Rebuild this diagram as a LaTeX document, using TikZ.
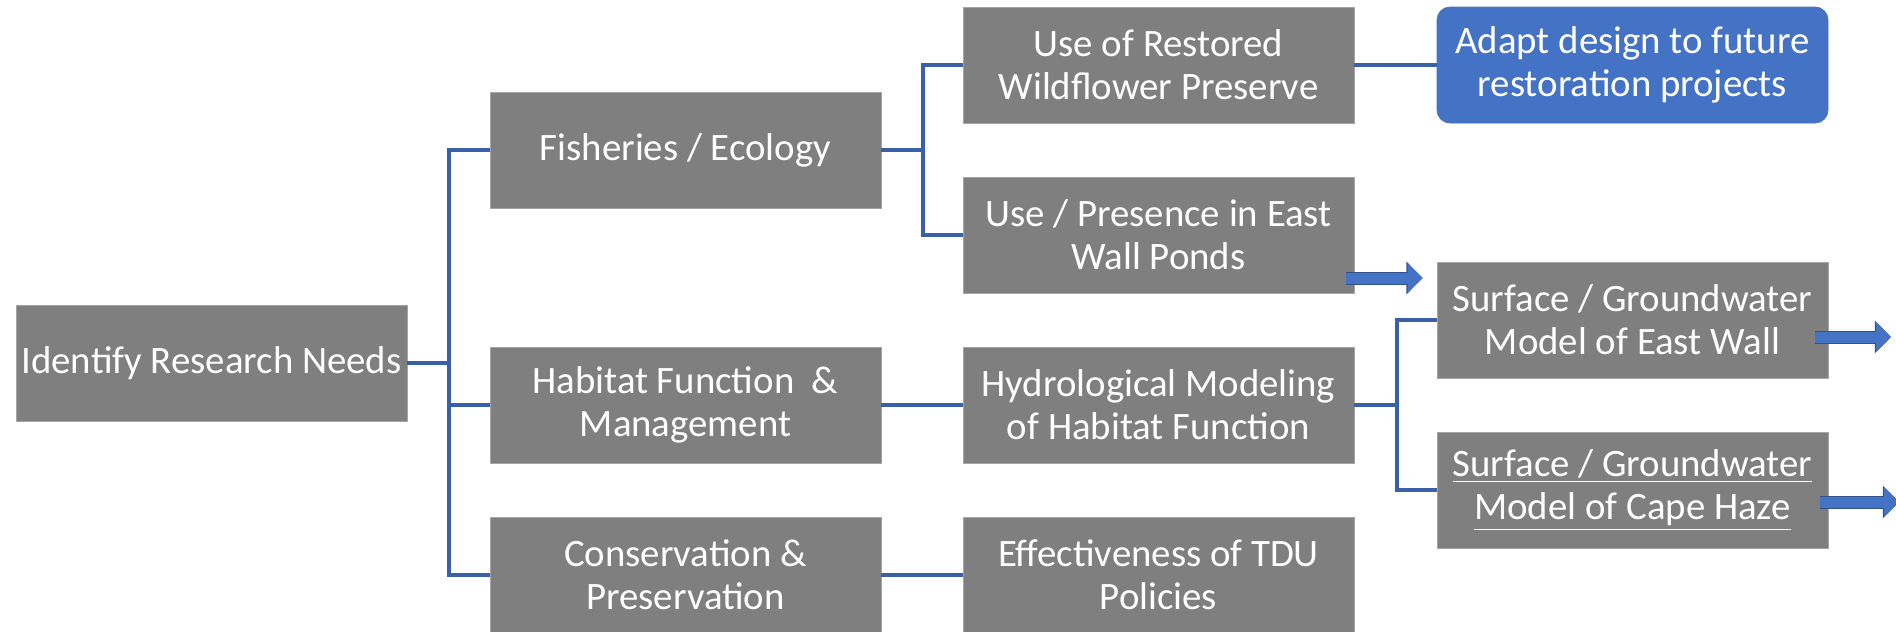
\documentclass[tikz,border=0pt]{standalone}
\usepackage{fontspec}
\setmainfont{Carlito}
\usepackage{tikz}
\usetikzlibrary{arrows.meta}
\usetikzlibrary{calc}

\definecolor{cajagris}{HTML}{7F7F7F}
\definecolor{bordegris}{HTML}{A5A5A5}
\definecolor{azulclaro}{HTML}{4472C4}
\definecolor{azuloscuro}{HTML}{2F528F}

\begin{document}
\begin{tikzpicture}[
        x=0.5pt, y=-0.5pt, % one unit = one pixel of the reference
        font=\fontsize{19.4}{21.5}\selectfont,
        % --- styles ---
        box/.style={fill=cajagris, draw=bordegris, line width=0.4pt, text=white,
            minimum width=195.5pt, minimum height=58pt, inner sep=0pt, align=center},
        goal/.style={box, fill=azulclaro, draw=azulclaro, rounded corners=6.5pt},
        link/.style={azulclaro!85!black, line width=1.7pt},
        blockarrow/.style={-{Triangle[length=7.5pt, width=14.5pt]}, line width=5.5pt, azulclaro,
            preaction={draw=azuloscuro, line width=6.5pt, -{Triangle[length=8.1pt, width=15.9pt]}}},
    ]
        \useasboundingbox (0,0) rectangle (1896,632);

        % --- 1. Boxes, column by column ---
        \node[box] (identify) at (211.5,363) {Identify Research Needs};

        \node[box] (fisheries) at (685.5,150) {Fisheries / Ecology};
        \node[box] (habitat) at (685.5,405) {Habitat Function\ \ \&\\Management};
        \node[box] (conservation) at (685.5,575) {Conservation \&\\Preservation};

        \node[box] (restored) at (1158.5,65) {Use of Restored\\Wildflower Preserve};
        \node[box] (presence) at (1158.5,235) {Use / Presence in East\\Wall Ponds};
        \node[box] (hydro) at (1158.5,405) {Hydrological Modeling\\of Habitat Function};
        \node[box] (tdu) at (1158.5,575) {Effectiveness of TDU\\Policies};

        \node[goal] (adapt) at (1632.5,65) {Adapt design to future\\restoration projects};
        \node[box] (eastwall) at (1632.5,320) {Surface / Groundwater\\Model of East Wall};
        \node[box] (capehaze) at (1632.5,490) {\underline{Surface / Groundwater}\\\underline{Model of Cape Haze}};

        % --- 2. Branching connectors ---
        \coordinate (trunkA) at (449,363);
        \coordinate (trunkB) at (923,150);
        \coordinate (trunkC) at (1397,405);

        \draw[link] (identify.east) -- (trunkA);
        \foreach \child in {fisheries, habitat, conservation} {
            \draw[link] (trunkA) |- (\child.west);
        }
        \draw[link] (fisheries.east) -- (trunkB);
        \foreach \child in {restored, presence} {
            \draw[link] (trunkB) |- (\child.west);
        }
        \draw[link] (hydro.east) -- (trunkC);
        \foreach \child in {eastwall, capehaze} {
            \draw[link] (trunkC) |- (\child.west);
        }

        % --- 3. Straight connectors ---
        \draw[link] (restored) -- (adapt);
        \draw[link] (habitat) -- (hydro);
        \draw[link] (conservation) -- (tdu);

        % --- 4. Block arrows ---
        \coordinate (exitA) at (1891,337);
        \coordinate (exitB) at (1899,502);
        \draw[blockarrow] ([shift={(-8,43)}]presence.east) -- ([shift={(-14,43)}]presence.east -| eastwall.west);
        \draw[blockarrow] ([shift={(-13,17)}]eastwall.east) -- (exitA);
        \draw[blockarrow] ([shift={(-8,12)}]capehaze.east) -- (exitB);

    \end{tikzpicture}
\end{document}
